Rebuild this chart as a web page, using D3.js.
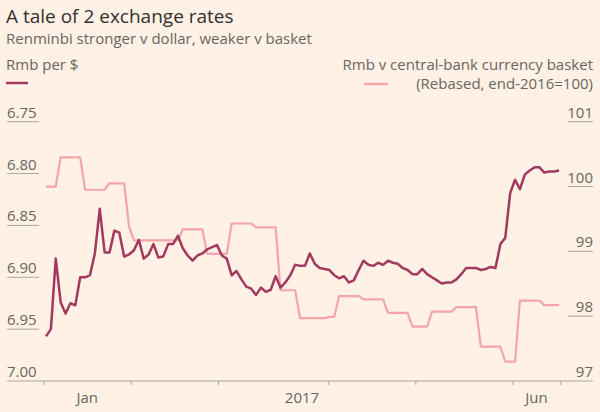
<!DOCTYPE html>
<html>
<head>
<meta charset="utf-8">
<script src="https://cdn.jsdelivr.net/npm/d3@7"></script>
<style>
  html, body { margin: 0; padding: 0; background: #fff1e5; }
  svg { display: block; font-family: "Open Sans", "Noto Sans", sans-serif; }
</style>
</head>
<body>
<svg id="chart"></svg>
<script>
// Rmb per $, one value per trading day (end-2016 to mid-June 2017)
const rmbPerDollar = [
  6.957, 6.950, 6.882, 6.924, 6.935, 6.925, 6.927, 6.900, 6.900, 6.898,
  6.877, 6.834, 6.876, 6.876, 6.855, 6.857, 6.880, 6.878, 6.874, 6.864,
  6.882, 6.878, 6.868, 6.881, 6.880, 6.868, 6.868, 6.860, 6.872, 6.879,
  6.884, 6.879, 6.877, 6.873, 6.871, 6.869, 6.879, 6.882, 6.898, 6.894,
  6.902, 6.909, 6.911, 6.917, 6.910, 6.914, 6.912, 6.899, 6.910, 6.905,
  6.898, 6.888, 6.889, 6.889, 6.877, 6.887, 6.891, 6.892, 6.893, 6.898,
  6.901, 6.899, 6.905, 6.903, 6.893, 6.884, 6.888, 6.889, 6.886, 6.888,
  6.884, 6.886, 6.887, 6.891, 6.893, 6.897, 6.897, 6.892, 6.897, 6.900,
  6.903, 6.906, 6.905, 6.905, 6.902, 6.897, 6.891, 6.891, 6.891, 6.893,
  6.892, 6.890, 6.891, 6.868, 6.862, 6.819, 6.806, 6.815, 6.801, 6.797,
  6.794, 6.794, 6.799, 6.798, 6.798, 6.797
];

// Rmb v CFETS basket (rebased end-2016=100), day index where each level starts/ends
const basketDay = [0, 2, 3, 7, 8, 12, 13, 16, 17, 18, 27, 28, 32, 33, 37, 38, 42, 43, 47, 48,
  51, 52, 57, 58, 59, 60, 64, 65, 69, 70, 74, 75, 78, 79, 83, 84, 88, 89, 93, 94,
  96, 97, 101, 102, 105];
const basketValue = [100.0, 100.0, 100.45, 100.45, 99.95, 99.95, 100.05, 100.05, 99.38, 99.17,
  99.17, 99.34, 99.34, 98.96, 98.96, 99.43, 99.43, 99.37, 99.37, 98.40,
  98.40, 97.97, 97.97, 97.99, 97.99, 98.31, 98.31, 98.26, 98.26, 98.05,
  98.05, 97.84, 97.84, 98.07, 98.07, 98.14, 98.14, 97.53, 97.53, 97.30,
  97.30, 98.24, 98.24, 98.17, 98.17];

const leftTicks = [6.75, 6.80, 6.85, 6.90, 6.95, 7.00];
const rightTicks = [101, 100, 99, 98, 97];
const monthBreaks = [-0.4, 17.4, 35.3, 57.9, 75.7, 95.6, 105.4];
const xLabelDays = [8.45, 52.4, 100.4];
const xLabelText = ["Jan", "2017", "Jun"];

const width = 600, height = 412;
const svg = d3.select("#chart").attr("width", width).attr("height", height);

svg.append("rect").attr("width", width).attr("height", height).attr("fill", "#fff1e5");

const x = d3.scaleLinear().domain([0, rmbPerDollar.length - 1]).range([46, 559]);
const yLeft = d3.scaleLinear().domain([6.75, 7.00]).range([121.7, 381]);
const yRight = d3.scaleLinear().domain([101, 97]).range([121.7, 381]);

const grey = "#6b6560";
const rule = "#aaa79d";
const fs = 15;

// titles
svg.append("text").attr("x", 6).attr("y", 22.5)
  .attr("font-size", 19).attr("fill", "#33302e").text("A tale of 2 exchange rates");
svg.append("text").attr("x", 6).attr("y", 44)
  .attr("font-size", fs).attr("fill", grey).text("Renminbi stronger v dollar, weaker v basket");

// legend
svg.append("text").attr("x", 6).attr("y", 69.5)
  .attr("font-size", fs).attr("fill", grey).text("Rmb per $");
svg.append("line").attr("x1", 6).attr("x2", 28).attr("y1", 83).attr("y2", 83)
  .attr("stroke", "#a23a5f").attr("stroke-width", 2.5);

svg.append("text").attr("x", 593).attr("y", 69.5).attr("text-anchor", "end")
  .attr("font-size", fs).attr("fill", grey).text("Rmb v central-bank currency basket");
svg.append("text").attr("x", 593).attr("y", 89).attr("text-anchor", "end")
  .attr("font-size", fs).attr("fill", grey).text("(Rebased, end-2016=100)");
svg.append("line").attr("x1", 364).attr("x2", 388).attr("y1", 84).attr("y2", 84)
  .attr("stroke", "#f4a5aa").attr("stroke-width", 2.5);

// left axis: label with underline
svg.append("g").selectAll("line")
  .data(leftTicks.filter(d => d < 7.0))
  .enter().append("line")
  .attr("x1", 7).attr("x2", 39)
  .attr("y1", d => yLeft(d)).attr("y2", d => yLeft(d))
  .attr("stroke", rule).attr("stroke-width", 1);
svg.append("g").selectAll("text")
  .data(leftTicks)
  .enter().append("text")
  .attr("x", 7).attr("y", d => yLeft(d) - 4)
  .attr("font-size", fs).attr("fill", grey)
  .text(d => d3.format(".2f")(d));

// right axis
svg.append("g").selectAll("line")
  .data(rightTicks.filter(d => d > 97))
  .enter().append("line")
  .attr("x1", 568).attr("x2", 593)
  .attr("y1", d => yRight(d)).attr("y2", d => yRight(d))
  .attr("stroke", rule).attr("stroke-width", 1);
svg.append("g").selectAll("text")
  .data(rightTicks)
  .enter().append("text")
  .attr("x", 593).attr("y", d => yRight(d) - 4)
  .attr("text-anchor", "end")
  .attr("font-size", fs).attr("fill", grey)
  .text(d => d);

// bottom axis
svg.append("line").attr("x1", 7).attr("x2", 593).attr("y1", 381).attr("y2", 381)
  .attr("stroke", rule).attr("stroke-width", 1);
svg.append("g").selectAll("line")
  .data(monthBreaks)
  .enter().append("line")
  .attr("x1", d => x(d)).attr("x2", d => x(d))
  .attr("y1", 381).attr("y2", 385)
  .attr("stroke", rule).attr("stroke-width", 1);
svg.append("g").selectAll("text")
  .data(xLabelDays)
  .enter().append("text")
  .attr("x", d => x(d)).attr("y", 403)
  .attr("text-anchor", "middle")
  .attr("font-size", fs).attr("fill", grey)
  .text((d, i) => xLabelText[i]);

// lines
const basketLine = d3.line()
  .x((d, i) => x(basketDay[i]))
  .y(d => yRight(d));
svg.append("path")
  .attr("d", basketLine(basketValue))
  .attr("fill", "none")
  .attr("stroke", "#f4a5aa")
  .attr("stroke-width", 2.2)
  .attr("stroke-linejoin", "round");

const rmbLine = d3.line()
  .x((d, i) => x(i))
  .y(d => yLeft(d));
svg.append("path")
  .attr("d", rmbLine(rmbPerDollar))
  .attr("fill", "none")
  .attr("stroke", "#a23a5f")
  .attr("stroke-width", 2.5)
  .attr("stroke-linejoin", "round");
</script>
</body>
</html>
